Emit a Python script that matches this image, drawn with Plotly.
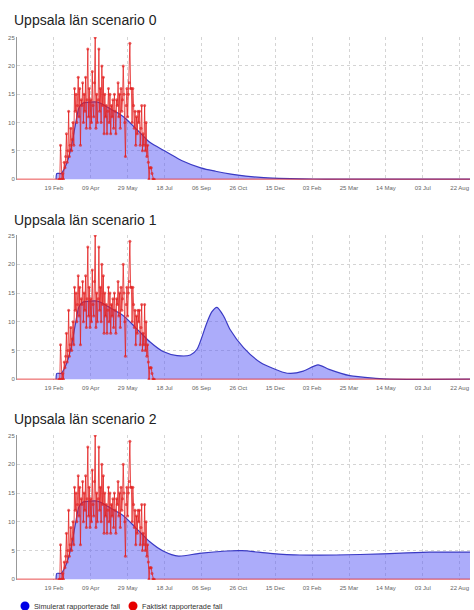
import pandas as pd
import plotly.graph_objects as go

# ---------------- data ----------------
titles = ["Uppsala län scenario 0", "Uppsala län scenario 1", "Uppsala län scenario 2"]
legend_names = ["Simulerat rapporterade fall", "Faktiskt rapporterade fall"]

# actually reported daily cases (same in all panels), starting 2020-02-26
actual_start = "2020-02-26"
actual_cases = [
    0, 0, 6, 0,
    0, 1, 0, 3, 2, 4, 8,
    3, 5, 12, 4, 6, 9, 5,
    7, 10, 6, 16, 12, 15, 10,
    13, 18, 11, 16, 6, 14, 13,
    17, 10, 15, 12, 18, 9, 14,
    23, 11, 16, 9, 14, 10, 19,
    13, 11, 17, 25, 9, 15, 10,
    14, 23, 12, 16, 10, 20, 13,
    18, 8, 15, 11, 13, 8, 12,
    16, 10, 15, 8, 13, 11, 14,
    9, 15, 12, 8, 14, 13, 17,
    11, 15, 9, 16, 12, 14, 20,
    15, 10, 4, 13, 16, 11, 15,
    17, 24, 16, 16, 10, 16, 13,
    9, 12, 6, 11, 8, 12, 10,
    12, 6, 9, 13, 5, 8, 6,
    13, 5, 10, 4, 6, 3, 0,
    2, 2, 2, 1, 0, 0, 0,
]
axis_start, axis_end = "2019-12-31", "2021-09-05"

# simulated reported cases (read at key dates)
common_dates = ["2020-02-22", "2020-02-23", "2020-02-29", "2020-03-04", "2020-03-09",
                "2020-03-14", "2020-03-19", "2020-03-24", "2020-03-29", "2020-04-08",
                "2020-04-18", "2020-04-28", "2020-05-08", "2020-05-18", "2020-05-28",
                "2020-06-07", "2020-06-17", "2020-06-28"]
common_vals = [0, 1.0, 1.0, 1.8, 3.4, 6.0, 9.5, 12.6, 13.4, 13.6,
               13.6, 13.0, 12.2, 11.5, 10.5, 9.2, 7.9, 6.5]

s0_dates = ["2020-07-18", "2020-07-26", "2020-08-10", "2020-09-05", "2020-09-25",
            "2020-10-16", "2020-11-05", "2020-11-25", "2020-12-20", "2021-01-20",
            "2021-02-20", "2021-03-10", "2021-09-05"]
s0_vals = [5.0, 4.4, 3.3, 2.0, 1.4, 0.9, 0.55, 0.3, 0.15, 0.05, 0.01, 0, 0]

s1_dates = ["2020-07-16", "2020-08-04", "2020-08-22", "2020-08-31", "2020-09-13",
            "2020-09-20", "2020-09-27", "2020-10-06", "2020-10-15", "2020-11-02",
            "2020-11-25", "2020-12-27", "2021-01-05", "2021-01-22", "2021-02-11",
            "2021-02-26", "2021-03-26", "2021-04-30", "2021-05-20", "2021-09-05"]
s1_vals = [4.8, 4.1, 4.2, 5.2, 9.7, 11.7, 12.5, 11.0, 8.6, 5.5,
           2.9, 1.15, 1.0, 1.4, 2.5, 1.7, 0.6, 0.15, 0, 0]

s2_dates = ["2020-07-16", "2020-08-06", "2020-09-03", "2020-10-10", "2020-10-31",
            "2020-12-08", "2021-01-17", "2021-03-08", "2021-05-10", "2021-07-12",
            "2021-09-05"]
s2_vals = [4.9, 4.0, 4.5, 4.9, 4.95, 4.5, 4.2, 4.2, 4.4, 4.7, 4.7]

tick_start = "2020-02-19"
tick_step_days = 50
tick_count = 12
y_ticks = [0, 5, 10, 15, 20, 25]

# ---------------- build ----------------
W, H = 474, 610
FONT = "Liberation Sans, Arial, sans-serif"
BLUE_LINE = "#3a3ac4"
BLUE_FILL = "rgba(90,90,245,0.5)"
RED = "#e32222"
LEGEND_COLORS = ["#0000e6", "#e60000"]

full_days = pd.date_range(axis_start, axis_end, freq="D")
act_days = pd.date_range(actual_start, periods=len(actual_cases), freq="D")
act_map = dict(zip(act_days, actual_cases))
act_full = [act_map.get(d, 0) for d in full_days]
act_msize = [3 if d in act_map else 0 for d in full_days]
x_ticks = list(pd.date_range(tick_start, periods=tick_count, freq=f"{tick_step_days}D"))

sims = [
    (common_dates + s0_dates, common_vals + s0_vals),
    (common_dates + s1_dates, common_vals + s1_vals),
    (common_dates + s2_dates, common_vals + s2_vals),
]

# pixel layout (top, bottom) of each panel
panels_px = [(37, 180), (235, 380), (435, 580)]
title_px = [20, 220, 419]
x_left_px, x_right_px = 17, 470

fig = go.Figure()
for i, (dts, vals) in enumerate(sims):
    sfx = "" if i == 0 else str(i + 1)
    fig.add_trace(go.Scatter(
        x=pd.to_datetime(dts), y=vals, mode="lines", name=legend_names[0],
        line=dict(color=BLUE_LINE, width=1.2, shape="spline", smoothing=0.7),
        fill="tozeroy", fillcolor=BLUE_FILL, showlegend=False, hoverinfo="skip",
        xaxis="x" + sfx, yaxis="y" + sfx))
    fig.add_trace(go.Scatter(
        x=full_days, y=act_full, mode="lines+markers", name=legend_names[1],
        line=dict(color=RED, width=0.8),
        marker=dict(color=RED, size=act_msize, line=dict(width=0)),
        showlegend=False, hoverinfo="skip", xaxis="x" + sfx, yaxis="y" + sfx))

annotations = []
shapes = []
for i, (top, bot) in enumerate(panels_px):
    annotations.append(dict(
        text=titles[i], xref="paper", yref="paper", x=12 / W, y=1 - title_px[i] / H,
        xanchor="left", yanchor="middle", showarrow=False,
        font=dict(size=14, color="#222", family=FONT)))

# legend row at the bottom: (circle centre x, text start x) in px
legend_pos = [(25, 32), (133, 140)]
legend_y = 606
for (cx, tx), name, col in zip(legend_pos, legend_names, LEGEND_COLORS):
    shapes.append(dict(type="circle", xref="paper", yref="paper",
                       x0=(cx - 4.5) / W, x1=(cx + 4.5) / W,
                       y0=1 - (legend_y + 4.5) / H, y1=1 - (legend_y - 4.5) / H,
                       fillcolor=col, line=dict(width=0)))
    annotations.append(dict(text=name, xref="paper", yref="paper", x=tx / W, y=1 - legend_y / H,
                            xanchor="left", yanchor="middle", showarrow=False,
                            font=dict(size=7.3, color="#333", family=FONT)))

layout = dict(
    width=W, height=H, margin=dict(l=0, r=0, t=0, b=0, autoexpand=False),
    paper_bgcolor="white", plot_bgcolor="white",
    font=dict(family=FONT, color="#333"),
    showlegend=False,
    annotations=annotations, shapes=shapes,
)
for i, (top, bot) in enumerate(panels_px):
    sfx = "" if i == 0 else str(i + 1)
    layout["xaxis" + sfx] = dict(
        domain=[x_left_px / W, x_right_px / W], range=[axis_start, axis_end], type="date",
        anchor="y" + sfx, tickvals=x_ticks, tickformat="%d %b",
        showgrid=True, gridcolor="#d4d4d4", griddash="3px,3px", gridwidth=1,
        showline=False, zeroline=False, ticks="", automargin=False, ticklabelstandoff=3,
        tickfont=dict(size=6, color="#666", family=FONT))
    layout["yaxis" + sfx] = dict(
        domain=[1 - bot / H, 1 - top / H], range=[-0.15, 25.1], anchor="x" + sfx,
        tickvals=y_ticks, showgrid=True, gridcolor="#d4d4d4", griddash="3px,3px", gridwidth=1,
        showline=True, linecolor="#999", linewidth=1, zeroline=False, ticks="", automargin=False,
        tickfont=dict(size=6, color="#666", family=FONT))

fig.update_layout(**layout)
fig.write_html(
    "out.html",
    config={"displayModeBar": False},
    post_script="document.body.style.margin='0';document.body.style.padding='0';"
                "document.body.style.overflow='hidden';",
)
